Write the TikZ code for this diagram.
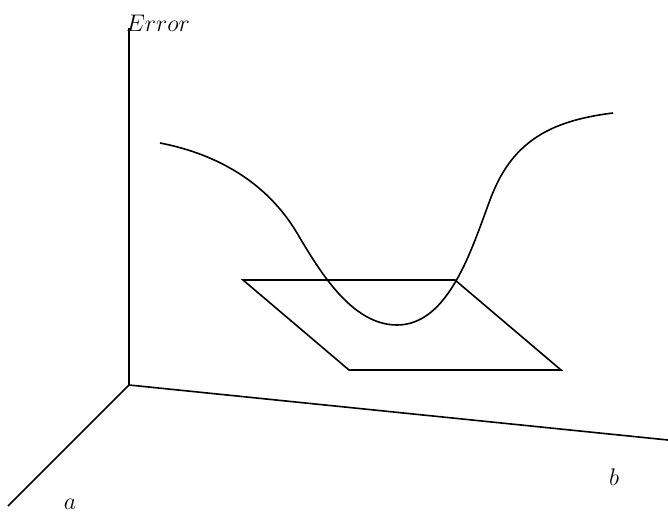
\documentclass[tikz,border=0pt]{standalone}
\begin{document}
\begin{tikzpicture}[x=0.5pt,y=-0.5pt,
  axis/.style={draw=black,line width=0.8pt},
  lbl/.style={inner sep=0pt,font=\large}]
\useasboundingbox (0,0) rectangle (668,512);
% axes
\coordinate (O) at (129,385);
\coordinate (E) at (129,28);
\coordinate (A) at (8,506);
\coordinate (B) at (668,440);
\draw[axis] (O) -- (E);
\draw[axis] (O) -- (A);
\draw[axis] (O) -- (B);
\node[lbl] (le) at (158,23) {$Error$};
\node[lbl] (la) at (70,504) {$a$};
\node[lbl] (lb) at (614,477) {$b$};
% plane
\coordinate (P1) at (243,280);
\coordinate (P2) at (455,280);
\coordinate (P3) at (561,370);
\coordinate (P4) at (349,370);
\draw[axis,line join=miter] (P1) -- (P2) -- (P3) -- (P4) -- cycle;
% error curve
\coordinate (C0) at (160,143);
\coordinate (C1) at (297,233);
\coordinate (C2) at (397,325);
\coordinate (C3) at (490,200);
\coordinate (C4) at (613,113);
\draw[axis] (C0) .. controls (222,155) and (269,186) .. (C1)
  .. controls (320,272) and (352,325) .. (C2)
  .. controls (449,325) and (472,248) .. (C3)
  .. controls (511,143) and (548,121) .. (C4);
\end{tikzpicture}
\end{document}
